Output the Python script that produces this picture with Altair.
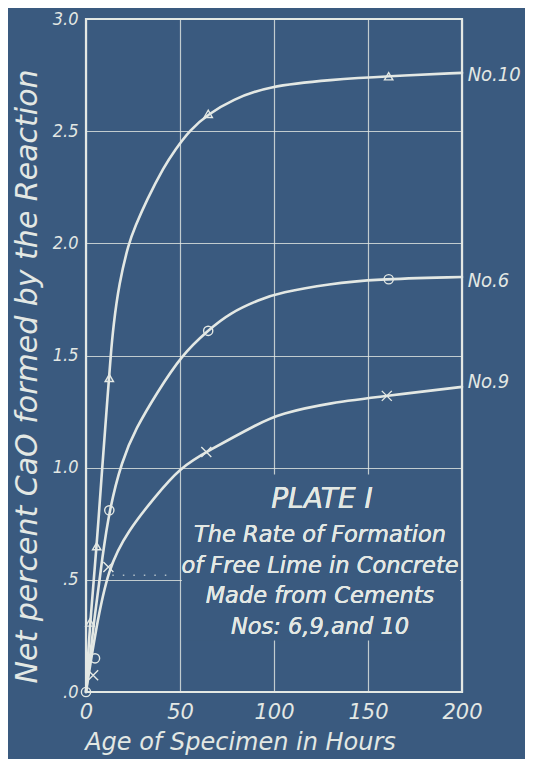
import altair as alt
import pandas as pd

BG = "#3a5a7f"
INK = "#e3e8e4"
FONT = "DejaVu Sans"
NARROW = "DejaVu Sans Condensed, DejaVu Sans"

# ---- axes ----
x_ticks = [0, 50, 100, 150, 200]
y_ticks = [0, 0.5, 1.0, 1.5, 2.0, 2.5, 3.0]
y_tick_labels = [".0", ".5", "1.0", "1.5", "2.0", "2.5", "3.0"]

# ---- drawn curves ----
c10_x = [0, 2.1, 5.7, 8.6, 11.6, 13.1, 14.5, 17.6, 22.7, 26.1, 32.3, 41.5, 47.3, 55.3, 65.1, 78, 96, 131, 160, 200]
c10_y = [0, 0.31, 0.65, 1.0, 1.33, 1.495, 1.629, 1.822, 2.0, 2.074, 2.193, 2.342, 2.416, 2.506, 2.577, 2.64, 2.70, 2.73, 2.745, 2.76]
c6_x = [0, 4, 9, 12.4, 19, 26.5, 37.6, 50.9, 64.7, 76.6, 92.5, 103, 130, 153, 200]
c6_y = [0, 0.3, 0.62, 0.81, 1.03, 1.175, 1.332, 1.502, 1.611, 1.69, 1.75, 1.78, 1.82, 1.84, 1.85]
c9_x = [0, 5, 11.9, 22.5, 36.7, 50, 65, 92.5, 103, 130, 160, 200]
c9_y = [0, 0.27, 0.557, 0.72, 0.87, 1.0, 1.075, 1.2, 1.24, 1.29, 1.32, 1.36]

# ---- observed points ----
m10_x = [2.1, 5.7, 12.4, 65, 161]
m10_y = [0.31, 0.65, 1.40, 2.577, 2.745]
m6_x = [0, 4.8, 12.4, 65, 161]
m6_y = [0, 0.15, 0.81, 1.61, 1.84]
m9_x = [3.8, 11.9, 64, 160]
m9_y = [0.075, 0.557, 1.07, 1.32]

series_names = ["No.10", "No.6", "No.9"]
label_y = [2.75, 1.83, 1.38]

plate_title = "PLATE I"
plate_lines = ["The Rate of Formation", "of Free Lime in Concrete",
               "Made from Cements", "Nos: 6,9,and 10"]

x_title = "Age of Specimen in Hours"
y_title = "Net percent CaO formed by the Reaction"

# ---- tables ----
curves = pd.concat([
    pd.DataFrame({"x": c10_x, "y": c10_y, "s": "No.10"}),
    pd.DataFrame({"x": c6_x, "y": c6_y, "s": "No.6"}),
    pd.DataFrame({"x": c9_x, "y": c9_y, "s": "No.9"}),
])
tri = pd.DataFrame({"x": m10_x, "y": m10_y})
cir = pd.DataFrame({"x": m6_x, "y": m6_y})
crs = pd.DataFrame({"x": m9_x, "y": m9_y})
labels = pd.DataFrame({"x": [203] * 3, "y": label_y, "t": series_names})
mask = pd.DataFrame({"x": [51], "x2": [199], "y": [0.23], "y2": [0.97]})
dots = pd.DataFrame({"x": [14], "x2": [47], "y": [0.52]})

label_expr = " : ".join(
    [f"datum.value == {v} ? '{l}'" for v, l in zip(y_ticks, y_tick_labels)] + ["''"]
)

xs = alt.Scale(domain=[0, 200], nice=False)
ys = alt.Scale(domain=[0, 3], nice=False)

X = alt.X("x:Q", scale=xs, axis=alt.Axis(
    values=x_ticks, title=x_title, grid=True, domain=False, ticks=False,
    labelFlush=False, labelOverlap=False,
    labelFontSize=21, labelPadding=9, labelFont=FONT, labelFontStyle="italic",
    labelColor=INK, titleFontSize=24, titleFont=FONT, titleFontStyle="italic",
    titleFontWeight="normal", titleColor=INK, titleX=154, titleY=50,
    titleAlign="center", titleBaseline="middle",
    gridColor=INK, gridOpacity=0.8, gridWidth=1.2))
Y = alt.Y("y:Q", scale=ys, axis=alt.Axis(
    values=y_ticks, labelExpr=label_expr, title=y_title, grid=True,
    domain=False, ticks=False, labelFlush=False, labelOverlap=False,
    labelFontSize=18, labelPadding=8,
    labelFont=NARROW, labelFontStyle="italic", labelColor=INK,
    labelBaseline="middle",
    titleFontSize=30, titleFont=FONT, titleFontStyle="italic",
    titleFontWeight="normal", titleColor=INK, titleAngle=270,
    titleX=-50, titleY=357, titleAlign="center", titleBaseline="alphabetic",
    gridColor=INK, gridOpacity=0.8, gridWidth=1.2))

base_grid = alt.Chart(mask).mark_rect(fill=BG, stroke=None).encode(
    x=X, x2="x2:Q", y=Y, y2="y2:Q")

dotted = alt.Chart(dots).mark_rule(color=INK, strokeDash=[1.5, 9], strokeWidth=1.5,
                                   opacity=0.7).encode(
    x=alt.X("x:Q", scale=xs), x2="x2:Q", y=alt.Y("y:Q", scale=ys))

lines = alt.Chart(curves).mark_line(interpolate="basis", strokeWidth=2.6,
                                    color=INK, strokeCap="round").encode(
    x=alt.X("x:Q", scale=xs), y=alt.Y("y:Q", scale=ys), detail="s:N",
    order="x:Q")

p_tri = alt.Chart(tri).mark_point(shape="triangle-up", filled=False, size=70,
                                  color=INK, strokeWidth=1.4, opacity=1).encode(
    x=alt.X("x:Q", scale=xs), y=alt.Y("y:Q", scale=ys))
p_cir = alt.Chart(cir).mark_point(shape="circle", filled=False, size=85,
                                  color=INK, strokeWidth=1.4, opacity=1).encode(
    x=alt.X("x:Q", scale=xs), y=alt.Y("y:Q", scale=ys))
p_crs = alt.Chart(crs).mark_point(shape="M-1,-1L1,1M-1,1L1,-1", filled=False,
                                  size=100, color=INK, strokeWidth=1.4,
                                  opacity=1).encode(
    x=alt.X("x:Q", scale=xs), y=alt.Y("y:Q", scale=ys))

names = alt.Chart(labels).mark_text(align="left", baseline="middle",
                                    font=NARROW, fontStyle="italic",
                                    fontSize=20, color=INK).encode(
    x=alt.X("x:Q", scale=xs), y=alt.Y("y:Q", scale=ys), text="t:N")

plate = alt.Chart(labels).mark_text(align="center", baseline="middle",
                                    font=FONT, fontStyle="italic",
                                    fontSize=28, color=INK).encode(
    x=alt.value(236), y=alt.value(481), text=alt.value(plate_title))

block = alt.Chart(labels).mark_text(align="center", baseline="middle",
                                    font=FONT, fontStyle="italic",
                                    fontSize=22.5, lineHeight=30.7, color=INK).encode(
    x=alt.value(234), y=alt.value(516), text=alt.value(plate_lines))

chart = alt.layer(base_grid, dotted, lines, p_tri, p_cir, p_crs, names,
                  plate, block).properties(
    width=376, height=673, background=BG,
    padding={"left": 78, "top": 11, "right": 63, "bottom": 67},
    autosize=alt.AutoSizeParams(type="none"),
).configure_view(stroke=INK, strokeWidth=2.2, fill=BG)

chart.save("out.html", embed_options={"renderer": "svg", "actions": False})
